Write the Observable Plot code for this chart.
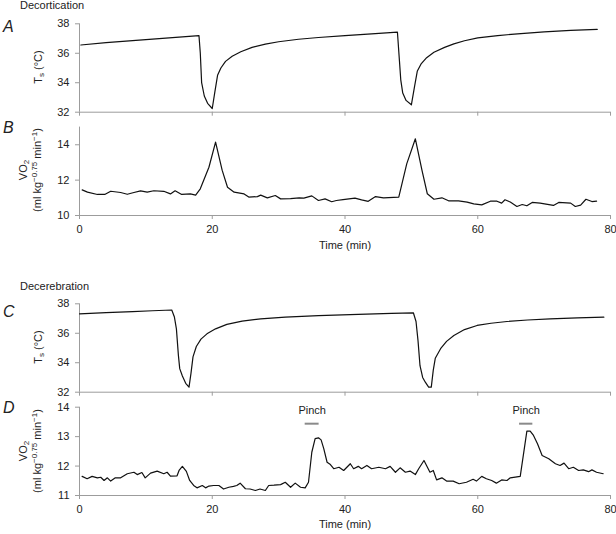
<!DOCTYPE html>
<html>
<head>
<meta charset="utf-8">
<script src="https://cdn.jsdelivr.net/npm/d3@7"></script>
<script src="https://cdn.jsdelivr.net/npm/@observablehq/plot@0.6"></script>
<style>
  html, body { margin: 0; padding: 0; background: #fff; }
  #wrap { position: relative; width: 616px; height: 534px; overflow: hidden; font-family: "Liberation Sans", Arial, Helvetica, sans-serif; color: #222; }
  #wrap svg { position: absolute; left: 0; }
  .lbl { position: absolute; white-space: nowrap; font-size: 11px; line-height: 1; }
  .rot { transform: translate(-50%, -50%) rotate(-90deg); }
  .letter { position: absolute; font-size: 16px; font-style: italic; line-height: 1; transform: translateY(-50%); }
  sup { font-size: 8px; vertical-align: 4px; line-height: 0; }
  sub { font-size: 8px; vertical-align: -2px; line-height: 0; }
</style>
</head>
<body>
<div id="wrap"></div>
<script>
// ---------- Data ----------
const xTicks = [0, 20, 40, 60, 80];

// Panel A: Decortication, skin temperature Ts (°C)
const tA = [0.2, 4, 8, 12, 16, 18.0, 18.2, 18.4, 18.8, 19.3, 20.0, 20.4, 20.8, 21.3, 22.0, 23.0, 24.3, 26.0, 28.0, 30.0, 33.0, 36.0, 40.0, 44.0, 47.9,
            48.2, 48.4, 48.7, 49.2, 50.0, 50.5, 50.9, 51.5, 52.3, 53.4, 55.0, 56.4, 58.0, 60.0, 63.0, 66.0, 70.0, 74.0, 78.0];
const TsA = [36.56, 36.72, 36.86, 37.0, 37.13, 37.2, 36.0, 34.0, 33.1, 32.6, 32.25, 33.4, 34.5, 35.0, 35.45, 35.8, 36.1, 36.4, 36.62, 36.78, 36.95, 37.07, 37.2, 37.32, 37.43,
            35.5, 34.2, 33.3, 32.8, 32.5, 33.8, 34.8, 35.3, 35.7, 36.07, 36.4, 36.64, 36.85, 37.05, 37.2, 37.32, 37.45, 37.55, 37.62];

// Panel B: Decortication, VO2 (ml kg^-0.75 min^-1)
const tB = [0.4, 1.2, 2.7, 3.8, 4.7, 6.2, 7.2, 8.2, 9.2, 10.2, 11.2, 12.7, 13.7, 14.4, 15.4, 16.7, 17.5, 18.2, 19.5, 20.5, 21.5, 22.3, 23.3, 24.8, 25.5,
            26.8, 27.3, 28.3, 29.5, 30.3, 31.8, 33.1, 33.8, 35.0, 36.0, 37.0, 38.0, 38.7, 39.7, 41.5, 42.5, 43.5, 44.6, 45.8, 48.1, 49.3, 50.6, 51.6, 52.4,
            53.4, 54.6, 55.6, 57.1, 58.4, 59.4, 60.6, 61.9, 62.9, 63.6, 64.1, 64.9, 65.9, 66.7, 67.4, 68.2, 69.4, 71.4, 72.2, 74.0, 74.7, 75.5, 76.3, 77.2, 77.9];
const VO2B = [11.45, 11.32, 11.19, 11.19, 11.37, 11.3, 11.2, 11.3, 11.39, 11.32, 11.4, 11.37, 11.22, 11.4, 11.19, 11.22, 11.15, 11.51, 12.73, 14.15, 12.55, 11.6, 11.32, 11.22, 11.04,
              11.07, 11.15, 11.0, 11.13, 10.94, 10.96, 11.0, 10.98, 11.11, 10.85, 10.94, 10.78, 10.85, 10.9, 10.98, 10.88, 10.8, 11.07, 11.0, 11.04, 12.92, 14.34, 12.55, 11.23,
              10.92, 11.0, 10.83, 10.83, 10.76, 10.66, 10.6, 10.81, 10.81, 10.7, 10.89, 10.76, 10.51, 10.62, 10.55, 10.74, 10.7, 10.57, 10.74, 10.7, 10.51, 10.59, 10.92, 10.79, 10.81];

// Panel C: Decerebration, Ts (°C)
const tC = [0.0, 4, 8, 11, 13.9, 14.3, 14.6, 14.9, 15.1, 15.5, 16.0, 16.5, 16.8, 17.1, 17.6, 18.3, 19.2, 20.5, 22.2, 24.5, 27.3, 31.0, 36.0, 42.0, 47.0, 50.3,
            50.7, 51.0, 51.3, 51.7, 52.1, 52.6, 53.0, 53.3, 53.6, 54.4, 55.3, 56.4, 58.0, 59.9, 62.0, 64.4, 67.5, 70.9, 75.0, 79.0];
const TsC = [37.32, 37.4, 37.47, 37.53, 37.58, 37.1, 36.3, 34.5, 33.6, 33.1, 32.6, 32.34, 33.3, 34.4, 35.1, 35.6, 35.96, 36.3, 36.6, 36.82, 36.98, 37.1, 37.2, 37.28, 37.35, 37.39,
             36.8, 35.5, 33.8, 33.0, 32.68, 32.34, 32.34, 33.5, 34.3, 34.95, 35.45, 35.85, 36.25, 36.53, 36.68, 36.8, 36.9, 36.98, 37.04, 37.09];

// Panel D: Decerebration, VO2 (ml kg^-0.75 min^-1)
const tD = [0.4, 1.15, 1.9, 2.7, 3.2, 3.7, 4.2, 4.7, 5.4, 6.2, 7.2, 8.2, 8.7, 9.4, 9.9, 10.7, 11.7, 12.7, 13.2, 13.7, 14.7, 15.0, 15.5, 16.1, 16.6, 17.2,
            17.7, 18.5, 19.0, 19.5, 20.2, 21.0, 21.7, 22.5, 23.2, 23.7, 24.2, 25.0, 25.7, 26.5, 27.2, 28.0, 28.5, 29.3, 30.3, 31.0, 31.8, 32.5, 33.3, 34.0,
            34.5, 35.0, 35.5, 36.0, 36.4, 36.8, 37.3, 37.8, 38.3, 39.1, 39.8, 40.8, 41.3, 42.0, 42.5, 43.3, 44.0, 45.1, 46.1, 46.8, 47.6, 48.3, 49.1, 49.8,
            50.6, 51.1, 51.9, 52.8, 53.3, 53.8, 54.6, 55.3, 56.3, 57.2, 58.3, 59.3, 59.8, 60.6, 61.3, 62.1, 62.8, 63.6, 64.4, 64.9, 66.4, 67.4, 67.9, 68.4,
            69.0, 69.7, 70.7, 71.7, 72.4, 73.0, 73.7, 74.4, 75.2, 75.9, 76.7, 77.2, 77.9, 78.9];
const VO2D = [11.65, 11.57, 11.65, 11.6, 11.62, 11.51, 11.6, 11.49, 11.6, 11.6, 11.74, 11.79, 11.71, 11.78, 11.6, 11.76, 11.83, 11.74, 11.79, 11.66, 11.67, 11.85, 11.99, 11.82, 11.51, 11.34,
              11.26, 11.34, 11.26, 11.32, 11.34, 11.34, 11.22, 11.28, 11.31, 11.34, 11.42, 11.23, 11.22, 11.17, 11.22, 11.17, 11.34, 11.35, 11.37, 11.45, 11.28, 11.42, 11.28, 11.26,
              11.45, 12.47, 12.93, 12.96, 12.89, 12.59, 12.13, 12.05, 11.91, 11.96, 11.85, 12.08, 11.91, 11.99, 11.91, 12.02, 11.91, 11.96, 11.91, 11.99, 11.79, 11.94, 11.79, 11.83,
              11.71, 11.91, 12.19, 11.79, 11.85, 11.53, 11.6, 11.49, 11.49, 11.4, 11.45, 11.55, 11.49, 11.65, 11.57, 11.51, 11.42, 11.53, 11.51, 11.6, 11.65, 13.19, 13.19, 13.04,
              12.76, 12.36, 12.25, 12.08, 12.02, 12.1, 11.91, 11.96, 11.85, 11.87, 11.81, 11.87, 11.79, 11.74];

// Pinch stimulus periods (min)
const pinchStart = [34.0, 66.3];
const pinchEnd = [36.1, 68.3];
const pinchLabel = ["Pinch", "Pinch"];

// ---------- Drawing ----------
const wrap = document.getElementById("wrap");
const zip = (ts, vs) => ts.map((t, i) => ({t, v: vs[i]}));
const axisGray = "#9c9c9c";

function panel({top, height, mt, mb, yDomain, yTicks, data, xLabels, extra = []}) {
  const chart = Plot.plot({
    width: 616, height,
    marginTop: mt, marginBottom: mb, marginLeft: 79, marginRight: 6,
    x: {domain: [0, 80]},
    y: {domain: yDomain},
    style: {fontFamily: '"Liberation Sans", Arial, Helvetica, sans-serif', fontSize: "11px", background: "transparent", color: "#222", overflow: "visible"},
    marks: [
      Plot.ruleY([yDomain[0]], {stroke: axisGray, strokeWidth: 1}),
      Plot.ruleX([0], {stroke: axisGray, strokeWidth: 1}),
      Plot.axisY({ticks: yTicks, tickSize: 4, tickPadding: 6, stroke: axisGray, fill: "#222", label: null, tickFormat: d => String(d)}),
      Plot.axisX({ticks: xTicks, tickSize: 4, tickPadding: 6, stroke: axisGray, fill: "#222", label: null, tickFormat: xLabels ? (d => String(d)) : (() => "")}),
      Plot.line(data, {x: "t", y: "v", stroke: "#111", strokeWidth: 1.2, curve: "linear"}),
      ...extra
    ]
  });
  chart.style.top = top + "px";
  wrap.appendChild(chart);
}

const timeLabel = Plot.text(["Time (min)"], {frameAnchor: "bottom", dy: 33, fill: "#222", fontSize: 11});

panel({top: 0, height: 120, mt: 23.3, mb: 8.3, yDomain: [32, 38], yTicks: [32, 34, 36, 38], data: zip(tA, TsA), xLabels: false});
panel({top: 120, height: 140, mt: 6.6, mb: 45, yDomain: [10, 15], yTicks: [10, 12, 14], data: zip(tB, VO2B), xLabels: true, extra: [timeLabel]});
panel({top: 270, height: 130, mt: 33.3, mb: 8.3, yDomain: [32, 38], yTicks: [32, 34, 36, 38], data: zip(tC, TsC), xLabels: false});

const pinches = pinchStart.map((s, i) => ({s, e: pinchEnd[i], m: (s + pinchEnd[i]) / 2, label: pinchLabel[i]}));
panel({top: 395, height: 139, mt: 11.7, mb: 39, yDomain: [11, 14], yTicks: [11, 12, 13, 14], data: zip(tD, VO2D), xLabels: true,
  extra: [
    Plot.ruleY(pinches, {x1: "s", x2: "e", y: () => 13.44, stroke: "#8a8a8a", strokeWidth: 2}),
    Plot.text(pinches, {x: "m", y: () => 13.89, text: "label", fill: "#222", fontSize: 11}),
    Plot.text(["Time (min)"], {frameAnchor: "bottom", dy: 32, fill: "#222", fontSize: 11})
  ]});

// ---------- HTML text ----------
function addText(html, cls, style) {
  const d = document.createElement("div");
  d.className = cls;
  d.innerHTML = html;
  Object.assign(d.style, style);
  wrap.appendChild(d);
}
addText("Decortication", "lbl", {left: "20px", top: "0px"});
addText("Decerebration", "lbl", {left: "20px", top: "281px"});
addText("A", "letter", {left: "3px", top: "27px"});
addText("B", "letter", {left: "3px", top: "128px"});
addText("C", "letter", {left: "3px", top: "312px"});
addText("D", "letter", {left: "3px", top: "408px"});
addText("T<sub>s</sub> (°C)", "lbl rot", {left: "38px", top: "67px"});
addText("T<sub>s</sub> (°C)", "lbl rot", {left: "38px", top: "347px"});
addText("VO<sub>2</sub>", "lbl rot", {left: "23px", top: "170px"});
addText("(ml kg<sup>−0.75</sup> min<sup>−1</sup>)", "lbl rot", {left: "37px", top: "170px"});
addText("VO<sub>2</sub>", "lbl rot", {left: "23px", top: "451px"});
addText("(ml kg<sup>−0.75</sup> min<sup>−1</sup>)", "lbl rot", {left: "37px", top: "451px"});
</script>
</body>
</html>
